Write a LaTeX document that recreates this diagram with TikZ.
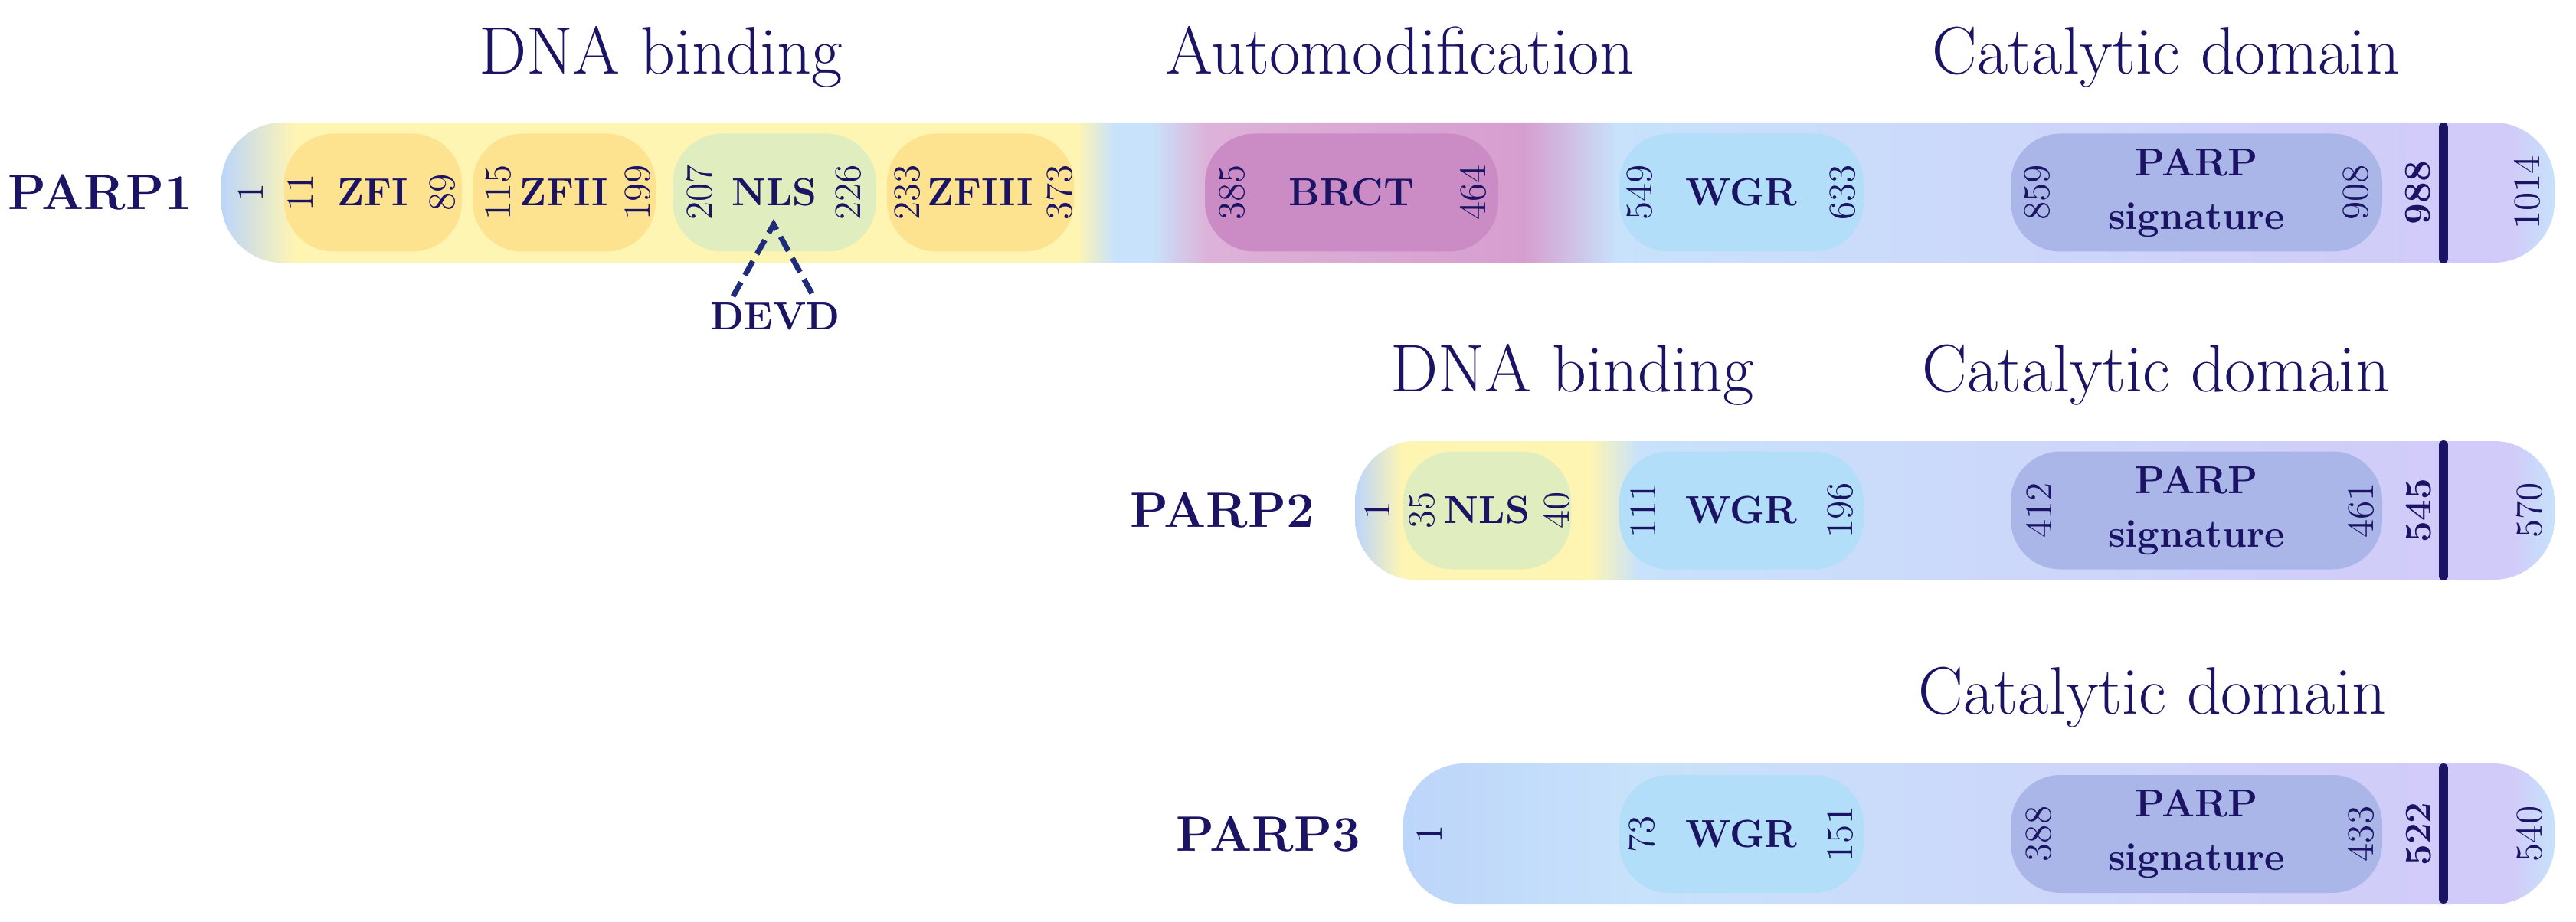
\documentclass[tikz,border=0pt]{standalone}
\usepackage{tikz}
\usetikzlibrary{positioning}
\definecolor{navy}{HTML}{1B1464}
\definecolor{cutcol}{HTML}{1F2B7B}
\definecolor{blueL}{HTML}{BCD5FA}
\definecolor{blueM}{HTML}{C8E2FB}
\definecolor{blueR}{HTML}{C6E2FB}
\definecolor{lavender}{HTML}{D1CBF9}
\definecolor{yellowbg}{HTML}{FFF5B2}
\definecolor{pinkbg}{HTML}{DDB2D9}
\definecolor{pinkdeep}{HTML}{D69ECF}
\definecolor{zfcol}{HTML}{FDE28F}
\definecolor{nlscol}{HTML}{E0EDBF}
\definecolor{brctcol}{HTML}{CB8BC5}
\definecolor{wgrcol}{HTML}{B2DEFA}
\definecolor{sigcol}{HTML}{AAB5E8}

\begin{document}
\begin{tikzpicture}[
    num/.style={rotate=90, text=navy, inner sep=0pt, font=\fontsize{14}{14}\selectfont},
    bnum/.style={num, font=\fontsize{14}{14}\selectfont\bfseries},
    dom/.style={rounded corners=0.65cm, minimum height=1.54cm, inner sep=0pt,
        text=navy, align=center, font=\fontsize{14.5}{20}\selectfont\bfseries},
    title/.style={text=navy, anchor=base, font=\fontsize{25}{29}\selectfont},
    protein/.style={text=navy, anchor=east, font=\fontsize{18.5}{22}\selectfont\bfseries},
    endline/.style={line width=3.4pt, draw=navy, line cap=round},
    cleave/.style={line width=2pt, draw=cutcol, dash pattern=on 6pt off 3pt}
]
    \useasboundingbox (0,0) rectangle (33.63,12.03);

    % headings
    \node[title] (dna1) at (8.63,11.06) {DNA binding};
    \node[title] (auto1) at (18.28,11.06) {Automodification};
    \node[title] (cat1) at (28.28,11.06) {Catalytic domain};
    \node[title] (dna2) at (20.53,6.91) {DNA binding};
    \node[title] (cat2) at (28.15,6.91) {Catalytic domain};
    \node[title] (cat3) at (28.10,2.71) {Catalytic domain};

    % PARP1 bar
    \begin{scope}
        \clip[rounded corners=0.8cm] (2.89,8.60) rectangle (33.35,10.43);
        \fill[blueM] (2.89,8.60) rectangle (33.35,10.43);
        \shade[left color=blueL, right color=yellowbg] (2.89,8.60) rectangle (3.86,10.43);
        \fill[yellowbg] (3.85,8.60) rectangle (14.06,10.43);
        \shade[left color=yellowbg, right color=blueM] (14.05,8.60) rectangle (14.55,10.43);
        \shade[left color=blueM, right color=pinkbg] (15.05,8.60) rectangle (15.76,10.43);
        \shade[left color=pinkbg, right color=pinkdeep] (15.75,8.60) rectangle (19.91,10.43);
        \shade[left color=pinkdeep, right color=blueM] (19.90,8.60) rectangle (21.11,10.43);
        \shade[left color=blueM, right color=lavender] (21.10,8.60) rectangle (32.01,10.43);
        \fill[lavender] (32.00,8.60) rectangle (32.81,10.43);
        \shade[left color=lavender, right color=blueR] (32.80,8.60) rectangle (33.35,10.43);
    \end{scope}

    % PARP2 bar
    \begin{scope}
        \clip[rounded corners=0.8cm] (17.69,4.46) rectangle (33.35,6.27);
        \fill[blueM] (17.69,4.46) rectangle (33.35,6.27);
        \shade[left color=blueL, right color=yellowbg] (17.69,4.46) rectangle (18.31,6.27);
        \fill[yellowbg] (18.30,4.46) rectangle (20.76,6.27);
        \shade[left color=yellowbg, right color=blueM] (20.75,4.46) rectangle (21.40,6.27);
        \shade[left color=blueM, right color=lavender] (21.39,4.46) rectangle (32.01,6.27);
        \fill[lavender] (32.00,4.46) rectangle (32.81,6.27);
        \shade[left color=lavender, right color=blueR] (32.80,4.46) rectangle (33.35,6.27);
    \end{scope}

    % PARP3 bar
    \begin{scope}
        \clip[rounded corners=0.8cm] (18.32,0.22) rectangle (33.35,2.06);
        \shade[left color=blueL, right color=blueM] (18.32,0.22) rectangle (21.40,2.06);
        \shade[left color=blueM, right color=lavender] (21.39,0.22) rectangle (32.01,2.06);
        \fill[lavender] (32.00,0.22) rectangle (32.81,2.06);
        \shade[left color=lavender, right color=blueR] (32.80,0.22) rectangle (33.35,2.06);
    \end{scope}

    % protein names
    \node[protein] (parp1) at (2.63,9.515) {PARP1};
    \node[protein] (parp2) at (17.28,5.365) {PARP2};
    \node[protein] (parp3) at (17.88,1.14) {PARP3};

    % domains
    \node[dom, fill=zfcol, minimum width=2.32cm] (zfi) at (4.87,9.515) {ZFI};
    \node[dom, fill=zfcol, minimum width=2.39cm] (zfii) at (7.365,9.515) {ZFII};
    \node[dom, fill=nlscol, minimum width=2.66cm] (nls1) at (10.11,9.515) {NLS};
    \node[dom, fill=zfcol, minimum width=2.44cm] (zfiii) at (12.80,9.515) {ZFIII};
    \node[dom, fill=brctcol, minimum width=3.83cm] (brct) at (17.645,9.515) {BRCT};
    \node[dom, fill=wgrcol, minimum width=3.19cm] (wgr1) at (22.735,9.515) {WGR};
    \node[dom, fill=sigcol, minimum width=4.85cm] (sig1) at (28.675,9.515) {PARP\\signature};

    \node[dom, fill=nlscol, minimum width=2.19cm] (nls2) at (19.415,5.365) {NLS};
    \node[dom, fill=wgrcol, minimum width=3.19cm] (wgr2) at (22.735,5.365) {WGR};
    \node[dom, fill=sigcol, minimum width=4.85cm] (sig2) at (28.675,5.365) {PARP\\signature};

    \node[dom, fill=wgrcol, minimum width=3.19cm] (wgr3) at (22.735,1.14) {WGR};
    \node[dom, fill=sigcol, minimum width=4.85cm] (sig3) at (28.675,1.14) {PARP\\signature};

    % residue numbers
    \foreach \x/\t [count=\i] in {3.27/1, 3.92/11, 5.78/89, 6.51/115, 8.33/199, 9.13/207,
        11.08/226, 11.85/233, 13.83/373, 16.09/385, 19.23/464, 21.40/549, 24.06/633,
        26.60/859, 30.76/908, 32.99/1014}
        \node[num] (a\i) at (\x,9.515) {\t};
    \foreach \x/\t [count=\i] in {17.98/1, 18.57/35, 20.32/40, 21.45/111, 24.03/196,
        26.62/412, 30.82/461, 33.02/570}
        \node[num] (b\i) at (\x,5.365) {\t};
    \foreach \x/\t [count=\i] in {18.66/1, 21.43/73, 24.03/151, 26.62/388, 30.82/433,
        33.02/540}
        \node[num] (c\i) at (\x,1.14) {\t};
    \node[bnum] (a988) at (31.57,9.515) {988};
    \node[bnum] (b545) at (31.58,5.365) {545};
    \node[bnum] (c522) at (31.58,1.14) {522};

    % end of catalytic domain
    \draw[endline] (31.90,10.37) -- (31.90,8.65);
    \draw[endline] (31.90,6.22) -- (31.90,4.51);
    \draw[endline] (31.90,2.00) -- (31.90,0.29);

    % caspase site
    \node[dom, fill=none, minimum height=0pt] (devd) at (10.12,7.90) {DEVD};
    \coordinate (cut) at (10.10,9.10);
    \coordinate (devdL) at (9.57,8.16);
    \coordinate (devdR) at (10.62,8.16);
    \draw[cleave] (devdL) -- (cut) -- (devdR);
\end{tikzpicture}
\end{document}
